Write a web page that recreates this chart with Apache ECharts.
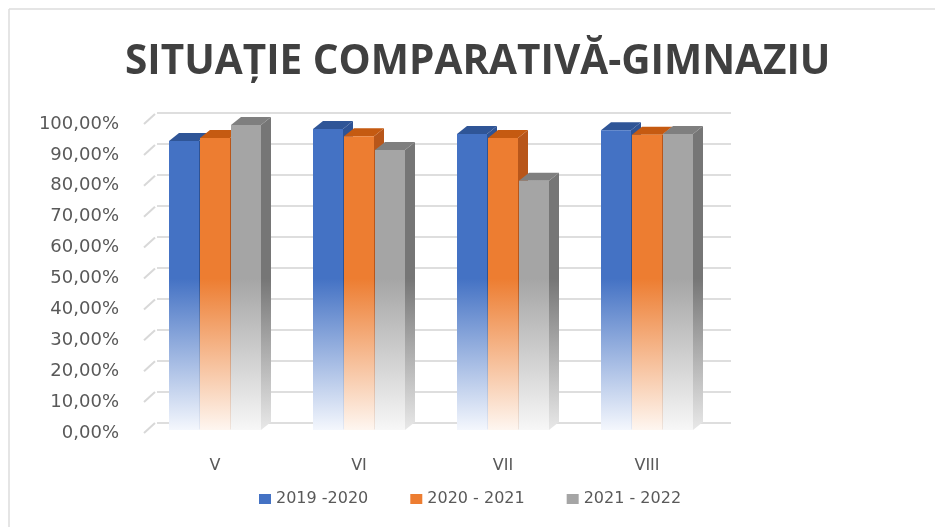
<!DOCTYPE html>
<html>
<head>
<meta charset="utf-8">
<script src="https://cdn.jsdelivr.net/npm/echarts@6/dist/echarts.min.js"></script>
<style>
  html, body { margin: 0; padding: 0; background: #fff; }
  #chart { width: 935px; height: 527px; }
</style>
</head>
<body>
<div id="chart"></div>
<script>
// date
const clase = ['V', 'VI', 'VII', 'VIII'];
const ani = ['2019 -2020', '2020 - 2021', '2021 - 2022'];
const val2019 = [0.945, 0.984, 0.968, 0.980];
const val2020 = [0.955, 0.960, 0.955, 0.965];
const val2021 = [0.997, 0.916, 0.816, 0.968];
const yTicks = [0, 0.1, 0.2, 0.3, 0.4, 0.5, 0.6, 0.7, 0.8, 0.9, 1];

// culori: fata, capac, lateral, baza decolorata
const culori = [
    { front: '#4472C4', top: '#2F5597', side: '#2E5395', fade: '#f4f7fd', sideFade: '#e6ebf5' },
    { front: '#ED7D31', top: '#C55A11', side: '#B8561A', fade: '#fef6f0', sideFade: '#efe5de' },
    { front: '#A5A5A5', top: '#7F7F7F', side: '#767676', fade: '#f7f7f7', sideFade: '#e8e8e8' },
];
const offsets = [-31, 0, 31];
const barW = 30;
const dx = 10, dy = -8;

function fmtPct(v) {
    return (v * 100).toFixed(2).replace('.', ',') + '%';
}

function makeRender(si) {
    const c = culori[si];
    return function (params, api) {
        const idx = api.value(0);
        const top = api.coord([idx, api.value(1)]);
        const base = api.coord([idx, 0]);
        const solid = api.coord([idx, 0.5])[1];
        const x0 = top[0] + offsets[si] - barW / 2;
        const x1 = x0 + barW;
        const yt = top[1], yb = base[1] - 3;
        const grad = (a, b) => ({
            type: 'linear', x: 0, y: solid, x2: 0, y2: yb, global: true,
            colorStops: [{ offset: 0, color: a }, { offset: 1, color: b }]
        });
        return {
            type: 'group',
            children: [
                {
                    type: 'polygon',
                    shape: { points: [[x1, yt], [x1 + dx, yt + dy], [x1 + dx, yb + dy], [x1, yb]] },
                    style: { fill: grad(c.side, c.sideFade) }
                },
                {
                    type: 'polygon',
                    shape: { points: [[x0, yt], [x0 + dx, yt + dy], [x1 + dx, yt + dy], [x1, yt]] },
                    style: { fill: c.top }
                },
                {
                    type: 'rect',
                    shape: { x: x0, y: yt, width: barW, height: yb - yt },
                    style: { fill: grad(c.front, c.fade) }
                }
            ]
        };
    };
}

const seriesData = [val2019, val2020, val2021];

const chart = echarts.init(document.getElementById('chart'));
const option = {
    animation: false,
    backgroundColor: '#fff',
    title: {
        text: 'SITUAȚIE COMPARATIVĂ-GIMNAZIU',
        left: 125,
        top: 42,
        padding: 0,
        textStyle: {
            fontFamily: 'Open Sans',
            fontWeight: 'bold',
            fontSize: 40.5,
            color: '#404040'
        }
    },
    graphic: [
        { type: 'line', shape: { x1: 9, y1: 9, x2: 935, y2: 9 }, style: { stroke: '#dcdcdc', lineWidth: 1.5 } },
        { type: 'line', shape: { x1: 9, y1: 9, x2: 9, y2: 527 }, style: { stroke: '#dcdcdc', lineWidth: 1.5 } }
    ],
    legend: {
        data: ani,
        left: 259,
        top: 491,
        padding: 0,
        icon: 'rect',
        itemWidth: 12,
        itemHeight: 10,
        itemGap: 42,
        textStyle: { fontFamily: 'DejaVu Sans', fontSize: 16, color: '#595959', width: 101, overflow: 'none' }
    },
    grid: [
        { left: 143, right: 216, top: 124, bottom: 94 },
        { left: 157, right: 204, top: 113, bottom: 104 }
    ],
    xAxis: [
        {
            type: 'category', gridIndex: 0, data: clase,
            axisLine: { show: false }, axisTick: { show: false },
            axisLabel: { color: '#595959', fontFamily: 'DejaVu Sans', fontSize: 16, margin: 25 }
        },
        {
            type: 'category', gridIndex: 1, data: clase, show: false
        }
    ],
    yAxis: [
        {
            type: 'value', gridIndex: 0, min: 0, max: 1, interval: 0.1,
            axisLine: { show: false }, axisTick: { show: false },
            splitLine: { show: false },
            axisLabel: { color: '#595959', fontFamily: 'DejaVu Sans', fontSize: 18, margin: 24, formatter: fmtPct }
        },
        {
            type: 'value', gridIndex: 1, min: 0, max: 1, interval: 0.1,
            axisLine: { show: false }, axisTick: { show: false },
            axisLabel: { show: false },
            splitLine: { lineStyle: { color: '#dedede', width: 2 } }
        }
    ],
    series: [
        {
            // mici linii diagonale de la etichete spre peretele din spate
            type: 'custom', xAxisIndex: 0, yAxisIndex: 0, silent: true,
            data: yTicks.map(v => [0, v]),
            renderItem: function (params, api) {
                const p = api.coord([0, api.value(1)]);
                const gx = params.coordSys.x;
                return {
                    type: 'line',
                    shape: { x1: gx + 1, y1: p[1], x2: gx + 12, y2: p[1] - 10 },
                    style: { stroke: '#d8d8d8', lineWidth: 2 }
                };
            }
        },
        ...seriesData.map((vals, si) => ({
            name: ani[si],
            type: 'custom',
            xAxisIndex: 0, yAxisIndex: 0,
            itemStyle: { color: culori[si].front },
            data: vals.map((v, i) => [i, v]),
            encode: { x: 0, y: 1 },
            renderItem: makeRender(si)
        }))
    ]
};
chart.setOption(option);
</script>
</body>
</html>
